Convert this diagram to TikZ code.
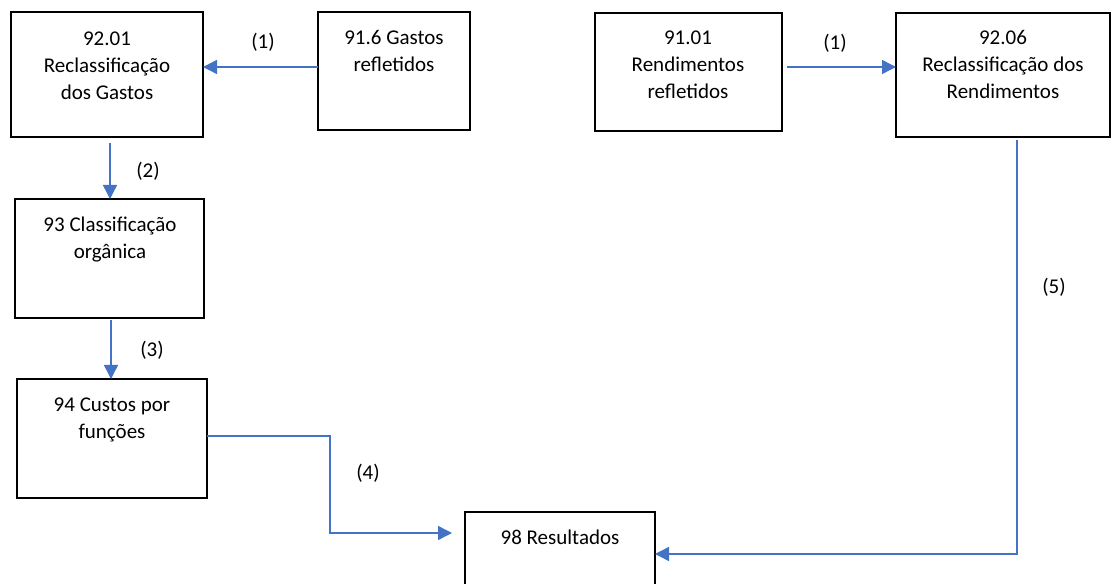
\documentclass[tikz,border=0pt]{standalone}
\usepackage{fontspec}
\setmainfont{Carlito}
\usetikzlibrary{arrows.meta,calc}
\definecolor{cblue}{HTML}{4472C4}
\tikzset{
  box/.style={draw=black, line width=2pt, inner sep=0pt, outer sep=0pt, anchor=north west, fill=white},
  txt/.style={align=center, inner sep=0pt, anchor=north, font=\fontsize{15.75}{20.25}\selectfont},
  lbl/.style={inner sep=0pt, font=\fontsize{15.75}{20.25}\selectfont},
  conn/.style={draw=cblue, line width=1.1pt, -{Triangle[length=10.5pt,width=10.5pt]}}
}
\begin{document}
\begin{tikzpicture}[x=0.75pt,y=-0.75pt]
\useasboundingbox (0,0) rectangle (1117,584);
% boxes
\node[box, minimum width=144pt, minimum height=93.75pt] (A) at (11,12) {};
\node[box, minimum width=114pt, minimum height=88.5pt] (B) at (318,12) {};
\node[box, minimum width=140.25pt, minimum height=88.5pt] (C) at (595,13) {};
\node[box, minimum width=160.5pt, minimum height=93pt] (D) at (896,13) {};
\node[box, minimum width=141.75pt, minimum height=89.25pt] (E) at (15,199) {};
\node[box, minimum width=142.5pt, minimum height=89.25pt] (F) at (17,379) {};
\node[box, minimum width=142.5pt, minimum height=72pt] (G) at (465,512) {};
% texts
\node[txt] (At) at (107,26) {\strut 92.01\\Reclassificação\\dos Gastos};
\node[txt] (Bt) at (394,25) {\strut 91.6 Gastos\\refletidos};
\node[txt] (Ct) at (688,25) {\strut 91.01\\Rendimentos\\refletidos};
\node[txt] (Dt) at (1003,25) {\strut 92.06\\Reclassificação dos\\Rendimentos};
\node[txt] (Et) at (110,212) {\strut 93 Classificação\\orgânica};
\node[txt] (Ft) at (112,392) {\strut 94 Custos por\\funções};
\node[txt] (Gt) at (560,525) {\strut 98 Resultados};
% helper coordinates
\coordinate (r1) at (0,67);
\coordinate (c2) at (110,0);
\coordinate (c3) at (111,0);
\coordinate (k4) at (330,436);
\coordinate (k5) at (330,533);
\coordinate (k6) at (1017,140);
\coordinate (k7) at (1017,554);
% connectors
\draw[conn] (B.west |- r1) -- (A.east |- r1);
\draw[conn, shorten <=3.75pt] (C.east |- r1) -- (D.west |- r1);
\draw[conn, shorten <=4.5pt] (A.south -| c2) -- (E.north -| c2);
\draw[conn, shorten <=1.5pt] (E.south -| c3) -- (F.north -| c3);
\draw[conn, shorten >=9.75pt] (F.east |- k4) -- (k4) -- (k5) -- (G.west |- k5);
\draw[conn, shorten <=2.25pt] (D.south -| k6) -- (k7) -- (G.east |- k7);
% labels
\node[lbl] (l1) at (263,42) {(1)};
\node[lbl] (l1b) at (835,43) {(1)};
\node[lbl] (l2) at (148,171) {(2)};
\node[lbl] (l3) at (152,350) {(3)};
\node[lbl] (l4) at (368,473) {(4)};
\node[lbl] (l5) at (1054,287) {(5)};
\end{tikzpicture}
\end{document}
